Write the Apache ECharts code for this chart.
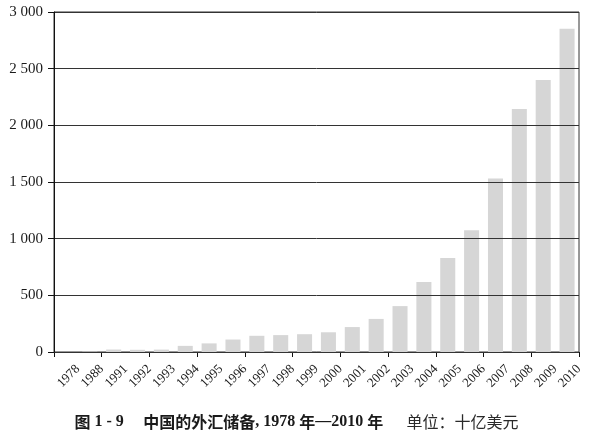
<!DOCTYPE html>
<html>
<head>
<meta charset="utf-8">
<script src="https://cdn.jsdelivr.net/npm/echarts@6/dist/echarts.min.js"></script>
<style>
html,body{margin:0;padding:0;background:#fff;}
#c{width:593px;height:435px;}
</style>
</head>
<body>
<div id="c"></div>
<script>
var years = ['1978','1988','1991','1992','1993','1994','1995','1996','1997','1998','1999','2000','2001','2002','2003','2004','2005','2006','2007','2008','2009','2010'];
var reserves = [0.2, 3.4, 21.7, 19.4, 21.2, 54, 76, 110, 143, 149, 157, 174, 220, 292, 405, 617, 830, 1074, 1530, 2144, 2400, 2853];
var yTicks = {min: 0, max: 3000, step: 500};

function fmt(v) {
  if (v >= 1000) { return Math.floor(v / 1000) + ' ' + String(v % 1000).padStart(3, '0'); }
  return String(v);
}

var chart = echarts.init(document.getElementById('c'), null, {renderer: 'canvas'});
chart.setOption({
  animation: false,
  backgroundColor: '#ffffff',
  title: {
    text: '{h|图}{n| 1 - 9}{s|　 }{h|中国的外汇储备}{n|, 1978 }{h|年}{n|—2010 }{h|年}{s|　  }{r|单位：十亿美元}',
    left: 'center',
    top: 409,
    textStyle: {
      fontSize: 16,
      fontFamily: 'Liberation Serif',
      color: '#1a1a1a',
      rich: {
        h: {fontFamily: 'Noto Sans CJK SC', fontWeight: 'bold', fontSize: 16, color: '#1a1a1a'},
        n: {fontFamily: 'Liberation Serif', fontWeight: 'bold', fontSize: 16, color: '#1a1a1a'},
        s: {fontFamily: 'Noto Sans CJK SC', fontSize: 16},
        r: {fontFamily: 'Noto Sans CJK SC', fontWeight: 'normal', fontSize: 16, color: '#2a2a2a'}
      }
    }
  },
  grid: {left: 54, right: 14, top: 12, bottom: 83, show: true, borderColor: '#333', borderWidth: 1, backgroundColor: 'transparent'},
  xAxis: [{
    type: 'category',
    data: years,
    boundaryGap: true,
    position: 'bottom',
    axisLine: {show: true, lineStyle: {color: '#111', width: 1}},
    axisTick: {show: true, length: 5, inside: false, alignWithLabel: false, lineStyle: {color: '#111'}},
    axisLabel: {show: false},
    splitLine: {show: false}
  }, {
    type: 'category',
    data: [''].concat(years),
    boundaryGap: false,
    position: 'bottom',
    axisLine: {show: false},
    axisTick: {show: false},
    splitLine: {show: false},
    axisLabel: {show: true, interval: 0, rotate: 45, margin: 15, fontFamily: 'Liberation Serif', fontSize: 13, color: '#1a1a1a'}
  }],
  yAxis: {
    type: 'value',
    min: yTicks.min,
    max: yTicks.max,
    interval: yTicks.step,
    z: 5,
    axisLine: {show: true, lineStyle: {color: '#111', width: 1}},
    axisTick: {show: true, length: 6, lineStyle: {color: '#111'}},
    axisLabel: {margin: 11, fontFamily: 'Liberation Serif', fontSize: 15, color: '#1a1a1a', formatter: fmt},
    splitLine: {show: true, lineStyle: {color: '#333', width: 1}}
  },
  series: [{
    type: 'bar',
    xAxisIndex: 0,
    data: reserves,
    barCategoryGap: '37%',
    itemStyle: {color: '#d6d6d6'}
  }]
});
</script>
</body>
</html>
